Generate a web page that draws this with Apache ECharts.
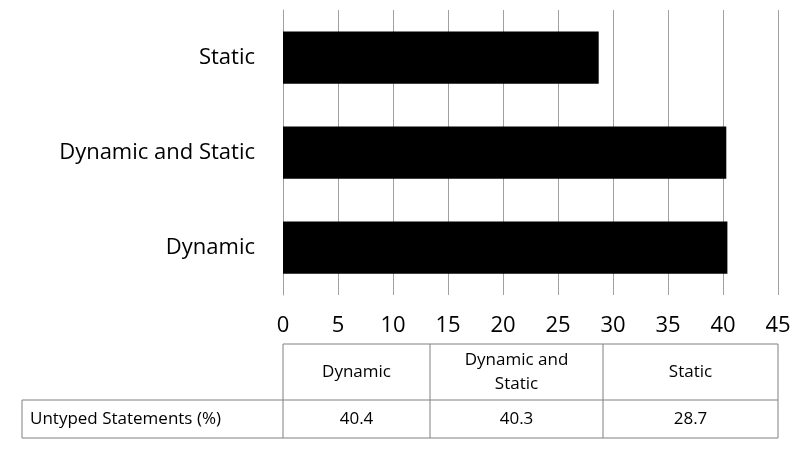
<!DOCTYPE html>
<html lang="en">
<head>
<meta charset="UTF-8">
<title>Untyped Statements</title>
<script src="https://cdn.jsdelivr.net/npm/echarts@6/dist/echarts.min.js"></script>
<style>html,body{margin:0;padding:0;background:#fff}</style>
</head>
<body>
<div id="main" style="width:806px;height:463px;"></div>
<script>
var categories = ['Dynamic', 'Dynamic and Static', 'Static'];
var headerLabels = ['Dynamic', 'Dynamic and\nStatic', 'Static'];
var values = [40.4, 40.3, 28.7];
var seriesName = 'Untyped Statements (%)';

var font = '"Open Sans", sans-serif';
var left = 283, right = 778;
var colX = [283, 430, 603, 778];
var hdrTop = 344, rowTop = 400, rowBot = 438;
var line = {stroke: '#808080', lineWidth: 1};

var g = [];
function ln(x1, y1, x2, y2) {
    g.push({type: 'line', shape: {x1: x1, y1: y1, x2: x2, y2: y2}, style: line});
}
ln(colX[0], hdrTop, colX[3], hdrTop);
ln(22, rowTop, colX[3], rowTop);
ln(22, rowBot, colX[3], rowBot);
ln(22, rowTop, 22, rowBot);
colX.forEach(function (x) { ln(x, hdrTop, x, rowBot); });
g.push({type: 'text', x: 30, y: (rowTop + rowBot) / 2,
    style: {text: seriesName, font: '17px ' + font, fill: '#000', textVerticalAlign: 'middle'}});
for (var i = 0; i < 3; i++) {
    var cx = (colX[i] + colX[i + 1]) / 2;
    g.push({type: 'text', x: cx, y: (hdrTop + rowTop) / 2,
        style: {text: headerLabels[i], font: '17px ' + font, fill: '#000',
            textAlign: 'center', textVerticalAlign: 'middle', lineHeight: 24}});
    g.push({type: 'text', x: cx, y: (rowTop + rowBot) / 2,
        style: {text: String(values[i]), font: '17px ' + font, fill: '#000',
            textAlign: 'center', textVerticalAlign: 'middle'}});
}

var chart = echarts.init(document.getElementById('main'));
chart.setOption({
    animation: false,
    grid: {left: left, right: 806 - right, top: 10, bottom: 463 - 295, containLabel: false},
    xAxis: {
        type: 'value', min: 0, max: 45, interval: 5,
        axisLine: {show: false}, axisTick: {show: false},
        splitLine: {lineStyle: {color: '#a0a0a0', width: 1}},
        axisLabel: {fontSize: 22, color: '#000', fontFamily: font, margin: 20}
    },
    yAxis: {
        type: 'category', data: categories,
        axisLine: {show: true, lineStyle: {color: '#a0a0a0'}},
        axisTick: {show: false},
        axisLabel: {fontSize: 22, color: '#000', fontFamily: font, margin: 28}
    },
    series: [{
        name: seriesName, type: 'bar', data: values,
        barCategoryGap: '45%', itemStyle: {color: '#000'}
    }],
    graphic: g
});
</script>
</body>
</html>
